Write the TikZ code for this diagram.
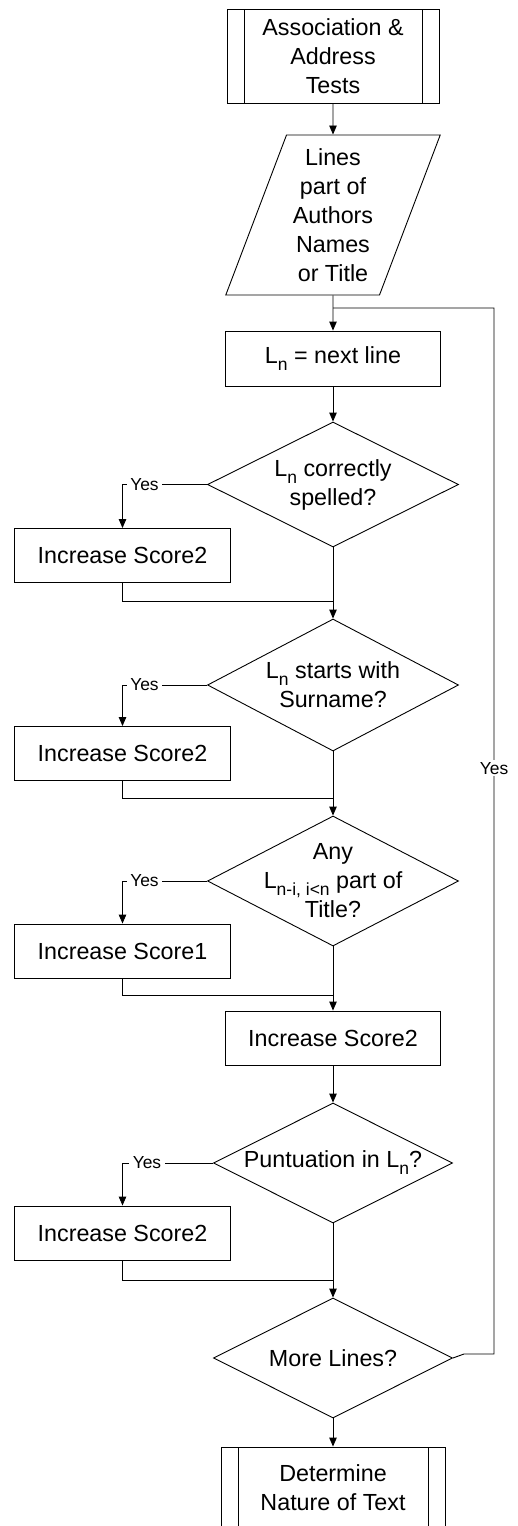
\documentclass[tikz,border=0pt]{standalone}
\usepackage{fontspec}
\setmainfont{Liberation Sans}
\usetikzlibrary{positioning,shapes.geometric,arrows.meta,calc}
\newcommand{\lsub}[1]{\raisebox{-7pt}{\fontsize{17.5}{18}\selectfont #1}}

\begin{document}
\begin{tikzpicture}[x=1pt,y=-1pt,line width=0.9pt,>={Triangle[length=9pt,width=7.5pt]}]
                        \tikzstyle{every node}=[font=\fontsize{23.3}{29}\selectfont,align=center,inner sep=0]
                        \tikzstyle{process}=[draw,rectangle,minimum width=215,minimum height=55]
                        \tikzstyle{score}=[process,minimum width=216,minimum height=54]
                        \tikzstyle{subproc}=[draw,rectangle,minimum height=94,
                            path picture={\draw ([xshift=17]path picture bounding box.north west) -- ([xshift=17]path picture bounding box.south west)
                                ([xshift=-17]path picture bounding box.north east) -- ([xshift=-17]path picture bounding box.south east);}]
                        \tikzstyle{data}=[draw,trapezium,trapezium left angle=68.5,trapezium right angle=111.5,trapezium stretches=true,minimum width=215,minimum height=160]
                        \tikzstyle{decision}=[draw,diamond,minimum width=251,minimum height=128]
                        \tikzstyle{yes}=[fill=white,font=\fontsize{17.4}{20}\selectfont,inner xsep=3.5,inner ysep=2]
                        {
                            \useasboundingbox (0,0) rectangle (517,1526);
                            \clip (0,0) rectangle (517,1526);

                            \node[subproc,minimum width=212] (t0) at (333,56) {Association \&\\Address\\Tests};
                            \node[data] (p0) at (333,215) {Lines\\part of\\Authors\\Names\\or Title};
                            \node[process] (n0) at (333,358.5) {L\lsub{n} = next line};

                            \node[decision,minimum height=125,label={center:{L\lsub{n} correctly\\spelled?}}] (d1) at (333,484.5) {};
                            \node[score] (b1) at (122.5,555.5) {Increase Score2};
                            \node[decision,minimum height=132,label={center:{L\lsub{n} starts with\\Surname?}}] (d2) at (333,685) {};
                            \node[score] (b2) at (122.5,753.5) {Increase Score2};
                            \node[decision,minimum height=130,label={center:{Any\\L\lsub{n-i, i<n} part of\\Title?}}] (d3) at (333,881) {};
                            \node[score] (b3) at (122.5,951) {Increase Score1};
                            \node[process,minimum height=54] (s0) at (333,1038) {Increase Score2};
                            \node[decision,minimum width=239,minimum height=120,label={center:{Puntuation in L\lsub{n}?}}] (d4) at (333,1163) {};
                            \node[score] (b4) at (122.5,1233) {Increase Score2};
                            \node[decision,minimum width=239,minimum height=120,label={center:{More Lines?}}] (d5) at (333,1358) {};
                            \node[subproc,minimum width=224,minimum height=82] (e0) at (333,1488) {Determine\\Nature of Text};

                            \coordinate (j0) at (333,308);
                            \coordinate (k0) at (494,308);
                            \coordinate (j1) at (333,601);
                            \coordinate (j2) at (333,798);
                            \coordinate (j3) at (333,995);
                            \coordinate (j4) at (333,1280);

                            \draw[->] (t0.south) -- (p0.north);
                            \draw[->] (p0.south) -- (n0.north);
                            \draw[->] (n0.south) -- (d1.north);
                            \draw[->] (d1.west) -| node[yes,pos=0.37] (y1) {Yes} (b1.north);
                            \draw (b1.south) |- (j1);
                            \draw[->] (d1.south) -- (d2.north);
                            \draw[->] (d2.west) -| node[yes,pos=0.37] (y2) {Yes} (b2.north);
                            \draw (b2.south) |- (j2);
                            \draw[->] (d2.south) -- (d3.north);
                            \draw[->] (d3.west) -| node[yes,pos=0.37] (y3) {Yes} (b3.north);
                            \draw (b3.south) |- (j3);
                            \draw[->] (d3.south) -- (s0.north);
                            \draw[->] (s0.south) -- (d4.north);
                            \draw[->] (d4.west) -| node[yes,pos=0.365] (y4) {Yes} (b4.north);
                            \draw (b4.south) |- (j4);
                            \draw[->] (d4.south) -- (d5.north);
                            \draw[->] (d5.south) -- (e0.north);
                            \draw (d5.east) -- ++(11,-4) -| node[yes,pos=0.78] (y5) {Yes} (k0) -- (j0);
                        }
\end{tikzpicture}
\end{document}
